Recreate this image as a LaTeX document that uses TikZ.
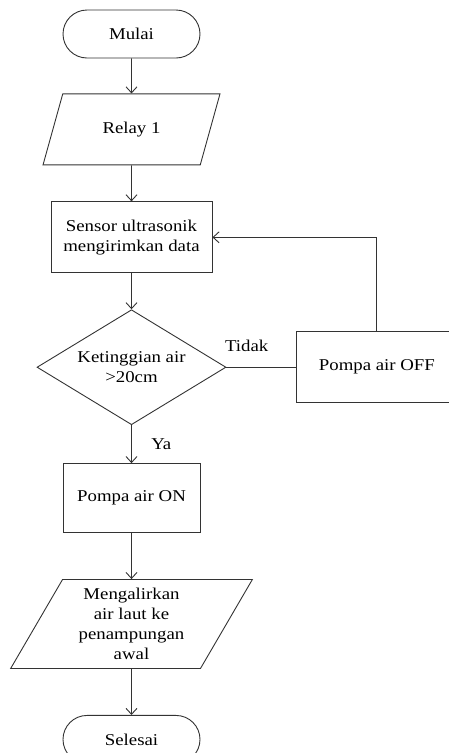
\documentclass[tikz,border=0pt]{standalone}
\usepackage{fontspec}
\setmainfont{Liberation Serif}[FakeStretch=1.14]
\usetikzlibrary{shapes.geometric,shapes.misc,arrows.meta,positioning}

\begin{document}
\begin{tikzpicture}[x=1pt, y=1pt, >={Straight Barb[length=6pt,width=11pt]}, font=\fontsize{16.5}{20}\selectfont,
  line/.style={draw=black!80, line width=0.9pt},
  term/.style={line, rounded rectangle, minimum width=137pt, minimum height=48pt, inner sep=0pt},
  proc/.style={line, rectangle, align=center, minimum width=161pt, minimum height=71pt, inner sep=0pt},
  io/.style={line, trapezium, trapezium left angle=61, trapezium right angle=119, trapezium stretches=true, align=center, inner sep=0pt},
  dec/.style={line, diamond, aspect=1.64, align=center, minimum width=189pt, minimum height=115pt, inner sep=0pt},
  arrow/.style={line, ->}]
\useasboundingbox (0,0) rectangle (448,-753);
\node[term] (mulai) at (131.5,-34) {Mulai};
\node[io, minimum width=177pt, minimum height=71pt, below=35pt of mulai] (relay) {Relay 1};
\node[proc, below=36pt of relay] (sensor) {Sensor ultrasonik\\mengirimkan data};
\node[dec, below=36pt of sensor] (cek) {Ketinggian air\\>20cm};
\node[proc, minimum width=160pt, right=70pt of cek] (off) {Pompa air OFF};
\node[proc, minimum width=137pt, minimum height=69pt, below=38pt of cek] (on) {Pompa air ON};
\node[io, minimum width=242pt, minimum height=89pt, below=46pt of on] (alir) {Mengalirkan\\air laut ke\\penampungan\\awal};
\node[term, below=46pt of alir] (selesai) {Selesai};
\draw[arrow] (mulai) -- (relay);
\draw[arrow] (relay) -- (sensor);
\draw[arrow] (sensor) -- (cek);
\draw[line] (cek) -- node[pos=0.29, yshift=21pt] {Tidak} (off);
\draw[arrow] (off.north) |- (sensor.east);
\draw[arrow] (cek) -- node[midway, right=16pt] {Ya} (on);
\draw[arrow] (on) -- (alir);
\draw[arrow] (alir) -- (selesai);
\end{tikzpicture}
\end{document}
